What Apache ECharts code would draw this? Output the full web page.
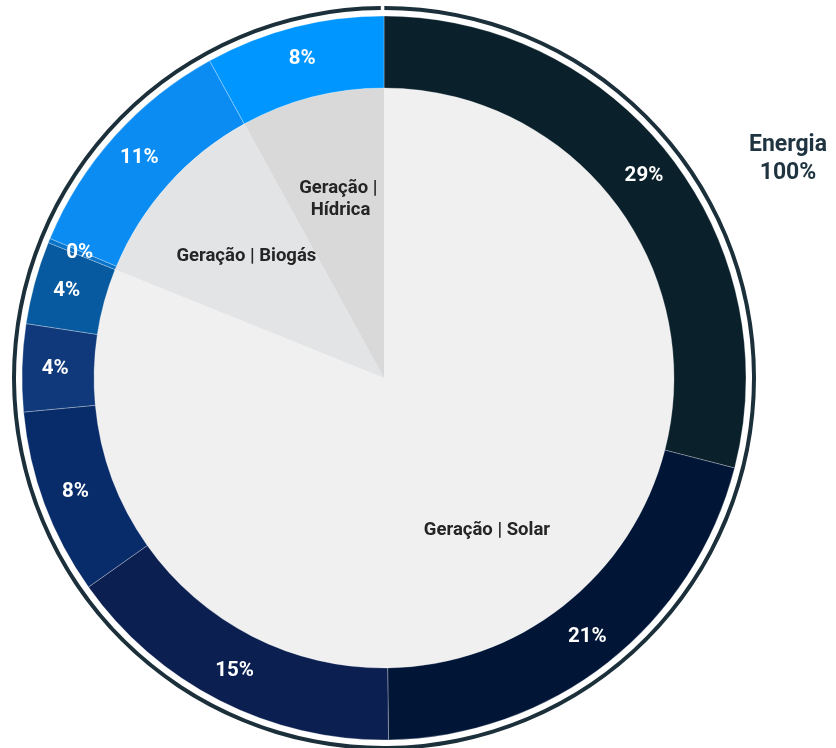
<!DOCTYPE html>
<html>
<head>
<meta charset="utf-8">
<script src="https://cdn.jsdelivr.net/npm/echarts@6/dist/echarts.min.js"></script>
<style>
    html, body { margin: 0; padding: 0; background: #ffffff; }
    #chart { width: 836px; height: 748px; }
</style>
</head>
<body>
<div id="chart"></div>
<script>
// inner ring: generation groups
var groupNames = ['Geração | Solar', 'Geração | Biogás', 'Geração | Hídrica'];
var groupColors = ['#f0f0f0', '#e3e4e6', '#d9d9d9'];

// outer ring: items, clockwise from the top
var itemGroup = [0, 0, 0, 0, 0, 0, 1, 1, 2];
var itemValues = [29.0, 20.8, 15.4, 8.3, 3.9, 3.7, 0.2, 10.7, 8.0];
var itemColors = ['#0a202b', '#011637', '#0b1f50', '#082b69', '#0f397a', '#075a9f', '#0873c9', '#0a8cf2', '#0096ff'];

var rootName = 'Energia';
var rootValue = 100;

var center = [384, 378];
var font = 'Roboto, "Noto Sans", sans-serif';

var groupValues = groupNames.map(function (n, g) {
    var s = 0;
    for (var i = 0; i < itemValues.length; ++i) {
        if (itemGroup[i] === g) {
            s += itemValues[i];
        }
    }
    return s;
});

var groupData = groupNames.map(function (n, g) {
    var d = {name: n, value: groupValues[g], itemStyle: {color: groupColors[g]}};
    if (g === 2) {
        d.label = {width: 100, overflow: 'break', padding: [8, 0, 0, 0]};
    }
    return d;
});

var itemData = itemValues.map(function (v, i) {
    return {name: groupNames[itemGroup[i]] + ' ' + i, value: v, itemStyle: {color: itemColors[i]}};
});

var chart = echarts.init(document.getElementById('chart'));
chart.setOption({
    animation: false,
    title: {
        text: rootName + '\n' + rootValue + '%',
        left: 783,
        top: 126,
        textAlign: 'center',
        textStyle: {
            fontFamily: font,
            fontSize: 23,
            fontWeight: 'bold',
            color: '#1f3440',
            lineHeight: 28
        }
    },
    series: [
        {
            // inner pie, fill only
            type: 'pie',
            center: center,
            radius: [0, 290],
            startAngle: 90,
            clockwise: true,
            silent: true,
            label: {show: false},
            labelLine: {show: false},
            itemStyle: {borderWidth: 0},
            data: groupData
        },
        {
            // same slices, only carrying the labels further out
            type: 'pie',
            center: center,
            radius: [72, 290],
            startAngle: 90,
            clockwise: true,
            silent: true,
            itemStyle: {color: 'rgba(0,0,0,0)', borderWidth: 0},
            label: {
                show: true,
                position: 'inside',
                formatter: '{b}',
                fontFamily: font,
                fontSize: 18.5,
                fontWeight: 'bold',
                color: '#252525',
                lineHeight: 22,
                align: 'center'
            },
            labelLine: {show: false},
            data: groupData.map(function (d) {
                return {name: d.name, value: d.value, label: d.label};
            })
        },
        {
            type: 'pie',
            center: center,
            radius: [290, 362],
            startAngle: 90,
            clockwise: true,
            silent: true,
            itemStyle: {borderColor: 'rgba(255,255,255,0.35)', borderWidth: 0.8},
            label: {
                show: true,
                position: 'inside',
                formatter: function (p) {
                    return Math.round(p.percent) + '%';
                },
                fontFamily: font,
                fontSize: 20.5,
                fontWeight: 'bold',
                color: '#ffffff'
            },
            labelLine: {show: false},
            data: itemData
        },
        {
            type: 'pie',
            center: center,
            radius: [368, 372],
            startAngle: 89.95,
            endAngle: -269.5,
            clockwise: true,
            silent: true,
            label: {show: false},
            labelLine: {show: false},
            itemStyle: {color: '#1b303a', borderWidth: 0},
            data: [{name: rootName, value: rootValue}]
        }
    ]
});
</script>
</body>
</html>
